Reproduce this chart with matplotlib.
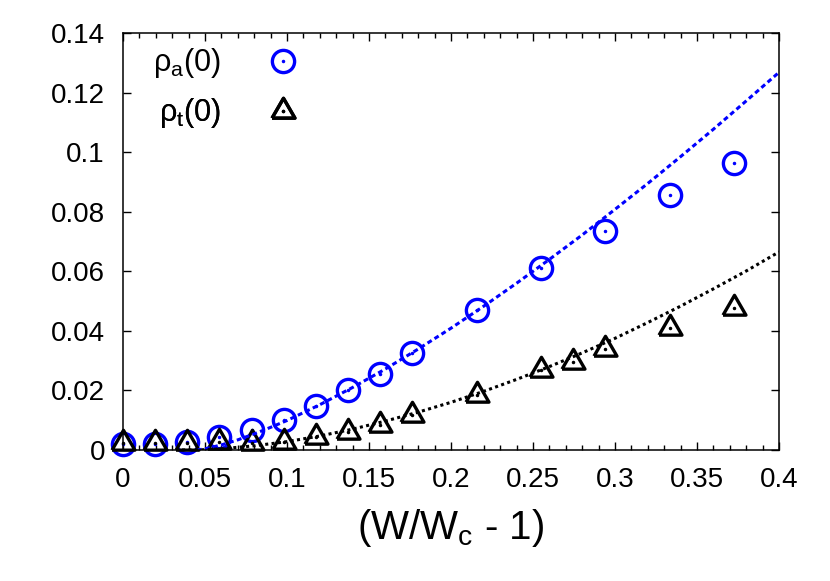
import numpy as np
import matplotlib
matplotlib.use("Agg")
import matplotlib.pyplot as plt
from matplotlib.ticker import MultipleLocator
from matplotlib.legend_handler import HandlerTuple
from matplotlib.lines import Line2D

plt.rcParams['font.family'] = ['Liberation Sans', 'DejaVu Sans']
plt.rcParams['mathtext.fontset'] = 'custom'
plt.rcParams['mathtext.rm'] = 'Liberation Sans'
plt.rcParams['mathtext.it'] = 'Liberation Sans'

# data points
x_a = [0.0, 0.0196, 0.0392, 0.0588, 0.0784, 0.098, 0.1176, 0.1373,
       0.1569, 0.1765, 0.2157, 0.2549, 0.2941, 0.3333, 0.3725]
rho_a = [0.0021, 0.0020, 0.0028, 0.0042, 0.0067, 0.0100, 0.0147, 0.0200,
         0.0256, 0.0326, 0.0470, 0.0610, 0.0736, 0.0856, 0.0962]

x_t = [0.0, 0.0196, 0.0392, 0.0588, 0.0784, 0.098, 0.1176, 0.1373,
       0.1569, 0.1765, 0.2157, 0.2549, 0.2745, 0.2941, 0.3333, 0.3725]
rho_t = [0.0022, 0.0022, 0.0022, 0.0027, 0.0025, 0.0028, 0.0045, 0.0060,
         0.0084, 0.0117, 0.0185, 0.0268, 0.0296, 0.0338, 0.0411, 0.0478]

# fit curves
fit_a_x = [0.045, 0.05, 0.06, 0.07, 0.08, 0.09, 0.10, 0.12, 0.14, 0.16, 0.18,
           0.20, 0.22, 0.24, 0.26, 0.28, 0.30, 0.32, 0.34, 0.36, 0.38, 0.40]
fit_a_y = [0.0, 0.0004, 0.0017, 0.0034, 0.0054, 0.0076, 0.0099, 0.0152,
           0.0210, 0.0272, 0.0339, 0.0409, 0.0483, 0.0560, 0.0640, 0.0722,
           0.0808, 0.0895, 0.0985, 0.1077, 0.1172, 0.1268]

fit_t_x = [0.036, 0.04, 0.05, 0.06, 0.07, 0.08, 0.09, 0.10, 0.12, 0.14, 0.16,
           0.18, 0.20, 0.22, 0.24, 0.26, 0.28, 0.30, 0.32, 0.34, 0.36, 0.38, 0.40]
fit_t_y = [0.0, 0.0, 0.0001, 0.0004, 0.0009, 0.0014, 0.0021, 0.0028, 0.0047,
           0.0070, 0.0097, 0.0127, 0.0160, 0.0197, 0.0237, 0.0280, 0.0326,
           0.0375, 0.0428, 0.0483, 0.0541, 0.0601, 0.0665]

xtick_labels = ['0', '0.05', '0.1', '0.15', '0.2', '0.25', '0.3', '0.35', '0.4']
ytick_labels = ['0', '0.02', '0.04', '0.06', '0.08', '0.1', '0.12', '0.14']

blue = '#0000ff'
tri = [(-1.0, -0.58), (1.0, -0.58), (0.0, 1.15), (-1.0, -0.58)]
circ_kw = dict(ls='none', marker='o', ms=16, mfc='none', mec=blue, mew=2.4)
tri_kw = dict(ls='none', marker=tri, ms=19, mfc='none', mec='black', mew=2.4)

fig = plt.figure(figsize=(8.3, 5.81), dpi=100)
ax = fig.add_axes([0.1482, 0.2255, 0.7904, 0.7177])

# gnuplot does not clip points at the border
ax.plot(x_a, rho_a, clip_on=False, **circ_kw)
ax.plot(x_a, rho_a, ls='none', marker='.', ms=3, color=blue, clip_on=False)
ax.plot(x_t, rho_t, clip_on=False, **tri_kw)
ax.plot(x_t, rho_t, ls='none', marker='.', ms=3, color='black', clip_on=False)

ax.plot(fit_a_x, fit_a_y, color=blue, lw=2.2, ls=(0, (1.6, 1.1)),
        dash_capstyle='butt')
ax.plot(fit_t_x, fit_t_y, color='black', lw=2.2, ls=(0, (1.0, 1.1)),
        dash_capstyle='butt')

ax.set_xlim(0, 0.4)
ax.set_ylim(0, 0.14)
ax.set_xticks(np.arange(0, 0.41, 0.05))
ax.set_xticklabels(xtick_labels)
ax.xaxis.set_minor_locator(MultipleLocator(0.01))
ax.set_yticks(np.arange(0, 0.141, 0.02))
ax.set_yticklabels(ytick_labels)
ax.tick_params(which='both', direction='in', top=True, right=True,
               labelsize=20, width=1.0)
ax.tick_params(which='major', length=6)
ax.tick_params(which='minor', length=3.5)
ax.tick_params(axis='x', pad=12)
ax.tick_params(axis='y', pad=13)
for sp in ax.spines.values():
    sp.set_linewidth(1.1)

ax.set_xlabel(r'(W/W$_\mathrm{c}$ - 1)', fontsize=29, labelpad=10)

# two single-entry legends anchored on the right so the labels line up on the right
entries = [
    ((Line2D([], [], **circ_kw), Line2D([], [], ls='none', marker='.', ms=3, color=blue)),
     r'ρ$_\mathrm{a}$(0)', 0.927),
    ((Line2D([], [], **tri_kw), Line2D([], [], ls='none', marker='.', ms=3, color='black')),
     r'ρ$_\mathrm{t}$(0)', 0.807),
]
for handle, label, yc in entries:
    leg = ax.legend([handle], [label],
                    handler_map={tuple: HandlerTuple(ndivide=1)},
                    loc='center right', bbox_to_anchor=(0.291, yc),
                    frameon=False, markerfirst=False, fontsize=22,
                    handlelength=2.0, handletextpad=1.05,
                    borderpad=0, borderaxespad=0)
    ax.add_artist(leg)

fig.savefig('out.png', dpi=100)
